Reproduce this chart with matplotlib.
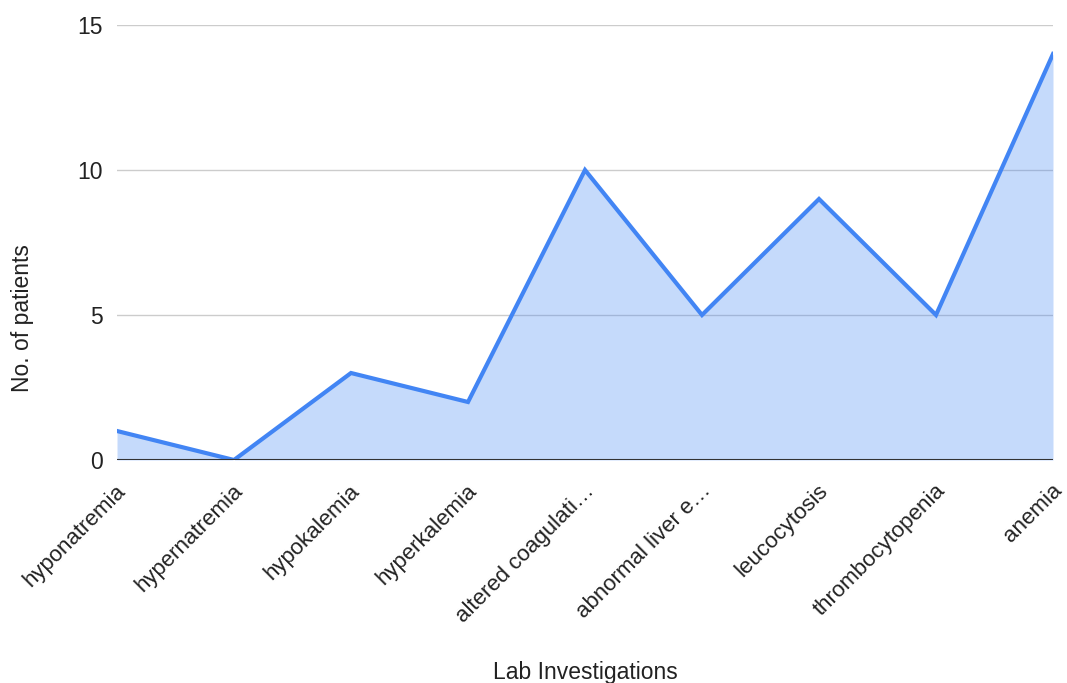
import matplotlib.pyplot as plt
from matplotlib.transforms import ScaledTranslation

plt.rcParams['font.family'] = ['Liberation Sans', 'DejaVu Sans']

categories = ['hyponatremia', 'hypernatremia', 'hypokalemia', 'hyperkalemia',
              'altered coagulati…', 'abnormal liver e…', 'leucocytosis',
              'thrombocytopenia', 'anemia']
patients = [1, 0, 3, 2, 10, 5, 9, 5, 14]

W, H = 1067, 683
fig = plt.figure(figsize=(W / 100, H / 100), dpi=100)
ax = fig.add_axes([117 / W, 1 - 460 / H, (1053 - 117) / W, (460 - 25) / H])

x = list(range(len(categories)))
ax.fill_between(x, patients, 0, color='#4285F4', alpha=0.3, linewidth=0)
ax.plot(x, patients, color='#4285F4', linewidth=3, solid_joinstyle='miter')

ax.set_xlim(0, len(categories) - 1)
ax.set_ylim(0, 15)
ax.set_yticks([0, 5, 10, 15])
ax.grid(axis='y', color='#cccccc', linewidth=1)
ax.axhline(0, color='#333333', linewidth=1.5, zorder=5)
ax.set_axisbelow(True)

for s in ax.spines.values():
    s.set_visible(False)

ax.set_xticks(x)
ax.set_xticklabels(categories, rotation=45, ha='right', va='center',
                   rotation_mode='anchor', fontsize=16, color='#222222')
ax.tick_params(axis='x', length=0, pad=20)
ax.tick_params(axis='y', length=0, pad=10, labelsize=16.5, labelcolor='#222222')

# nudge rotated labels a little to the right, like the original
shift = ScaledTranslation(6 / 100, 0, fig.dpi_scale_trans)
for lbl in ax.get_xticklabels():
    lbl.set_transform(lbl.get_transform() + shift)

fig.text(585 / W, 1 - 673 / H, 'Lab Investigations', fontsize=16.5,
         color='#222222', ha='center', va='center')
fig.text(23 / W, 1 - 318 / H, 'No. of patients', fontsize=16.5,
         color='#222222', ha='center', va='center', rotation=90)

fig.savefig('out.png', dpi=100)
